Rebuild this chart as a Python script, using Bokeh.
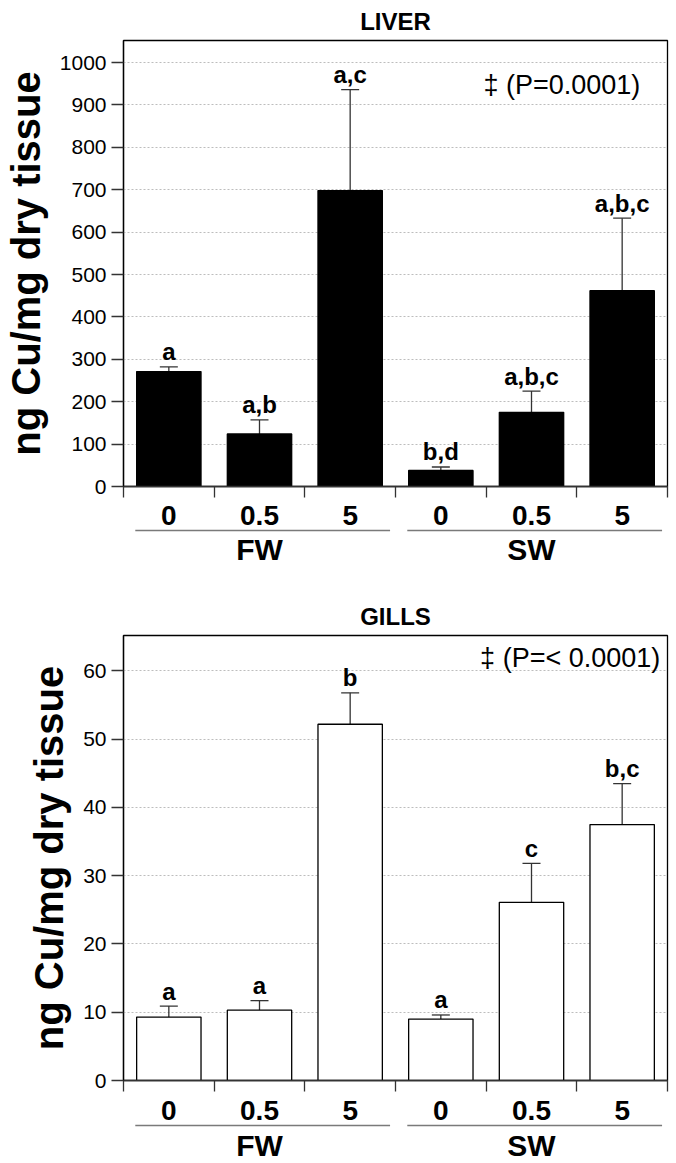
import numpy as np
from bokeh.plotting import figure
from bokeh.models import Range1d, FixedTicker, ColumnDataSource, Whisker, TeeHead, Title, Label
from bokeh.layouts import column
from bokeh.core.properties import value
from bokeh.embed import file_html
from bokeh.resources import INLINE

# ---------------- data ----------------
groups = ["FW", "SW"]
doses = ["0", "0.5", "5", "0", "0.5", "5"]

liver_mean = [271, 124, 698, 38, 175, 462]
liver_err = [11, 33, 238, 8, 50, 171]
liver_letters = ["a", "a,b", "a,c", "b,d", "a,b,c", "a,b,c"]
liver_yticks = [0, 100, 200, 300, 400, 500, 600, 700, 800, 900, 1000]

gills_mean = [9.3, 10.3, 52.2, 9.0, 26.1, 37.5]
gills_err = [1.6, 1.4, 4.6, 0.6, 5.7, 6.0]
gills_letters = ["a", "a", "b", "a", "c", "b,c"]
gills_yticks = [0, 10, 20, 30, 40, 50, 60]

# ---------------- style ----------------
FONT = "Liberation Sans"
W = 676
LEFT = 121
RIGHT = 9
BOTTOM = 12


def make_panel(title, mean, err, letters, ymax, yticks, fill, ptext, p_x, p_y, top_border, frame_h):
    n = len(mean)
    xs = np.arange(n) + 0.5
    upper = np.array(mean, dtype=float) + np.array(err, dtype=float)
    src = ColumnDataSource(dict(x=xs, mean=mean, upper=upper, letters=letters))
    p = figure(width=W, height=top_border + frame_h + BOTTOM,
               x_range=Range1d(0, n), y_range=Range1d(0, ymax),
               output_backend="svg", toolbar_location=None,
               min_border_left=LEFT, min_border_right=RIGHT,
               min_border_top=top_border, min_border_bottom=BOTTOM,
               title=Title(text=title, align="center", text_font=FONT,
                           text_font_style="bold", text_font_size="24px",
                           text_color="black", standoff=11))
    p.background_fill_color = "white"
    p.border_fill_color = "white"
    p.outline_line_color = "black"
    p.outline_line_width = 1.3
    p.outline_line_alpha = 1.0

    yax = p.yaxis[0]
    yax.ticker = FixedTicker(ticks=yticks)
    yax.axis_label = "ng Cu/mg dry tissue"
    yax.axis_label_text_font = FONT
    yax.axis_label_text_font_style = "bold"
    yax.axis_label_text_font_size = "40px"
    yax.axis_label_text_color = "black"
    yax.axis_label_standoff = 9
    yax.major_label_text_font = FONT
    yax.major_label_text_font_size = "21px"
    yax.major_label_text_color = "black"
    yax.major_label_standoff = 5
    yax.major_tick_out = 12
    yax.major_tick_in = 0
    yax.major_tick_line_color = "#333333"
    yax.major_tick_line_width = 1.3
    yax.minor_tick_line_color = None
    yax.axis_line_color = "black"
    yax.axis_line_width = 1.3

    xax = p.xaxis[0]
    xax.ticker = FixedTicker(ticks=[], minor_ticks=list(range(n + 1)))
    xax.major_tick_line_color = None
    xax.minor_tick_out = 11
    xax.minor_tick_in = 0
    xax.minor_tick_line_color = "#333333"
    xax.minor_tick_line_width = 1.3
    xax.major_label_standoff = 0
    xax.axis_line_color = "#333333"
    xax.axis_line_width = 1.3

    p.xgrid.visible = False
    p.ygrid.ticker = FixedTicker(ticks=yticks[1:])
    p.ygrid.grid_line_color = "#bdbdbd"
    p.ygrid.grid_line_dash = "2 2"
    p.ygrid.grid_line_width = 1

    p.vbar(x="x", top="mean", bottom=0, width=0.71, source=src,
           fill_color=fill, line_color="black", line_width=1.3)
    p.add_layout(Whisker(base="x", lower="mean", upper="upper", source=src,
                         line_color="#333333", line_width=1.3,
                         lower_head=None,
                         upper_head=TeeHead(size=18, line_color="#333333", line_width=1.3)))
    p.text(x="x", y="upper", text="letters", source=src, y_offset=-15,
           text_align="center", text_baseline="middle",
           text_font=value(FONT), text_font_style="bold", text_font_size="24px",
           text_color="black")
    p.add_layout(Label(x=p_x, y=p_y, text=ptext, text_align="right", text_baseline="middle",
                       text_font=FONT, text_font_size="27px", text_color="black"))
    return p


def make_strip(height, x_range, label_y, line_y, group_y):
    n = len(doses)
    xs = np.arange(n) + 0.5
    s = figure(width=W, height=height, x_range=x_range, y_range=Range1d(height, 0),
               output_backend="svg", toolbar_location=None, title=None,
               x_axis_location=None, y_axis_location=None,
               min_border_left=LEFT, min_border_right=RIGHT,
               min_border_top=0, min_border_bottom=0)
    s.outline_line_color = None
    s.grid.visible = False
    s.text(x=xs, y=[label_y] * n, text=doses, text_align="center", text_baseline="middle",
           text_font=value(FONT), text_font_style="bold", text_font_size="28px",
           text_color="black")
    per = n // len(groups)
    gstart = np.arange(len(groups)) * per
    s.segment(x0=gstart + 0.13, y0=[line_y] * len(groups), x1=gstart + per - 0.06,
              y1=[line_y] * len(groups), line_color="#7a7a7a", line_width=1.6)
    s.text(x=gstart + per / 2, y=[group_y] * len(groups), text=groups,
           text_align="center", text_baseline="middle",
           text_font=value(FONT), text_font_style="bold", text_font_size="30px",
           text_color="black")
    return s


p1 = make_panel("LIVER", liver_mean, liver_err, liver_letters, 1052, liver_yticks, "black",
                "\u2021 (P=0.0001)", 5.70, 947, 40, 446)
s1 = make_strip(90, p1.x_range, 16.5, 32, 50.5)
p2 = make_panel("GILLS", gills_mean, gills_err, gills_letters, 65.2, gills_yticks, "white",
                "\u2021 (P=< 0.0001)", 5.92, 61.9, 47, 445)
s2 = make_strip(71, p2.x_range, 17.5, 33, 53)

layout = column(p1, s1, p2, s2)
open("out.html", "w").write(file_html(layout, INLINE))
